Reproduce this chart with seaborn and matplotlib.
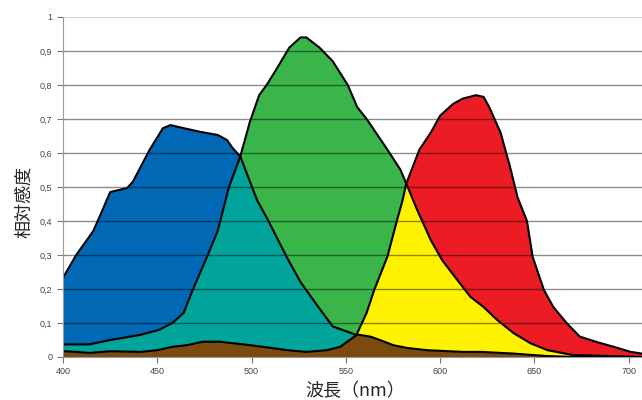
import matplotlib
matplotlib.use("Agg")
import matplotlib.pyplot as plt
import seaborn as sns

# ---- data (wavelength nm, relative sensitivity) ----
blue_x = [400, 407, 416, 420, 425, 434, 437, 446, 453, 457, 464, 473, 482, 487,
          490, 494, 503, 508, 519, 526, 535, 543, 554, 560, 570, 580, 600, 650, 707]
blue_y = [0.233, 0.30, 0.37, 0.42, 0.485, 0.497, 0.515, 0.61, 0.673, 0.682, 0.673,
          0.662, 0.653, 0.638, 0.614, 0.59, 0.46, 0.41, 0.29, 0.22, 0.15, 0.09,
          0.068, 0.05, 0.03, 0.02, 0.01, 0.0, 0.0]

green_x = [400, 414, 425, 441, 451, 458, 464, 469, 476, 482, 488, 494, 499, 504,
           508, 513, 520, 526, 529, 536, 543, 551, 556, 561, 572, 579, 582, 588,
           595, 601, 609, 616, 623, 630, 639, 648, 657, 670, 707]
green_y = [0.037, 0.037, 0.05, 0.065, 0.08, 0.10, 0.13, 0.20, 0.29, 0.37, 0.50,
           0.59, 0.69, 0.77, 0.80, 0.845, 0.91, 0.94, 0.94, 0.91, 0.87, 0.80,
           0.735, 0.70, 0.61, 0.55, 0.51, 0.43, 0.344, 0.285, 0.227, 0.177, 0.147,
           0.11, 0.07, 0.04, 0.02, 0.006, 0.0]

red_x = [540, 550, 556, 561, 565, 572, 577, 580, 582, 589, 595, 600, 607, 612,
         619, 623, 626, 632, 637, 641, 646, 649, 655, 660, 667, 674, 683, 692, 701, 707]
red_y = [0.0, 0.02, 0.07, 0.13, 0.197, 0.295, 0.40, 0.46, 0.51, 0.61, 0.66, 0.71,
         0.745, 0.76, 0.77, 0.765, 0.735, 0.66, 0.56, 0.47, 0.40, 0.295, 0.197,
         0.147, 0.10, 0.06, 0.044, 0.03, 0.015, 0.01]

brown_x = [400, 407, 414, 425, 441, 450, 458, 466, 474, 483, 499, 510, 519, 529,
           540, 547, 552, 556, 563, 568, 575, 582, 593, 612, 622, 639, 656, 670, 707]
brown_y = [0.017, 0.015, 0.012, 0.017, 0.015, 0.02, 0.03, 0.035, 0.045, 0.045,
           0.035, 0.027, 0.02, 0.015, 0.02, 0.03, 0.05, 0.066, 0.06, 0.05, 0.035,
           0.027, 0.02, 0.015, 0.015, 0.01, 0.003, 0.0, 0.0]

x_ticks = [400, 450, 500, 550, 600, 650, 700]
y_ticks = [0, 0.1, 0.2, 0.3, 0.4, 0.5, 0.6, 0.7, 0.8, 0.9, 1]
y_ticklabels = ["0", "0,1", "0,2", "0,3", "0,4", "0,5", "0,6", "0,7", "0,8", "0,9", "1"]

BLUE, GREEN, RED = "#0068b4", "#39b54a", "#ec1c24"
TEAL, YELLOW, BROWN = "#00a49a", "#fff200", "#7a4a10"

# ---- style ----
sns.set_style("white")
plt.rcParams["font.family"] = ["Noto Sans CJK JP", "DejaVu Sans"]

fig = plt.figure(figsize=(6.42, 4.0), dpi=100)
ax = fig.add_axes([63 / 642, 43 / 400, 579 / 642, 340 / 400])

# fills; overlaps are the next curve clipped to the previous one
blue_fill = ax.fill_between(blue_x, 0, blue_y, color=BLUE, lw=0, zorder=1)
ax.fill_between(green_x, 0, green_y, color=GREEN, lw=0, zorder=2)
teal = ax.fill_between(green_x, 0, green_y, color=TEAL, lw=0, zorder=3)
teal.set_clip_path(blue_fill.get_paths()[0], ax.transData)
green_fill = ax.fill_between(green_x, 0, green_y, color="none", lw=0, zorder=0)
ax.fill_between(red_x, 0, red_y, color=RED, lw=0, zorder=4)
yellow = ax.fill_between(red_x, 0, red_y, color=YELLOW, lw=0, zorder=5)
yellow.set_clip_path(green_fill.get_paths()[0], ax.transData)

# outlines
line_kw = dict(color="black", lw=1.5, solid_joinstyle="round", solid_capstyle="round")
for xs, ys in [(blue_x, blue_y), (green_x, green_y), (red_x, red_y)]:
    sns.lineplot(x=xs, y=ys, ax=ax, zorder=6, **line_kw)

ax.fill_between(brown_x, 0, brown_y, color=BROWN, lw=0, zorder=7)
sns.lineplot(x=brown_x, y=brown_y, ax=ax, zorder=8, **line_kw)

# axes
ax.set_xlim(400, 707)
ax.set_ylim(0, 1)
ax.set_xticks(x_ticks)
ax.set_yticks(y_ticks)
ax.set_yticklabels(y_ticklabels)
ax.tick_params(axis="both", labelsize=6.5, labelcolor="#444444", colors="#777777",
               length=4, width=0.8, direction="out", bottom=True, left=True)
for lbl in ax.get_xticklabels() + ax.get_yticklabels():
    lbl.set_family(["Liberation Sans", "DejaVu Sans"])
ax.grid(axis="y", color="black", alpha=0.45, lw=1)
ax.yaxis.get_gridlines()[-1].set_alpha(0.15)
ax.yaxis.set_zorder(5.5)
for side in ["top", "right"]:
    ax.spines[side].set_visible(False)
ax.spines["left"].set_color("#999999")
ax.spines["bottom"].set_color("#999999")
ax.spines["left"].set_zorder(9)
ax.spines["bottom"].set_zorder(9)

fig.text(24 / 642, 1 - 202 / 400, "相対感度", rotation=90, fontsize=13,
         ha="center", va="center")
fig.text(355 / 642, 1 - 391 / 400, "波長（nm）", fontsize=13,
         ha="center", va="center")

fig.savefig("out.png", dpi=100)
